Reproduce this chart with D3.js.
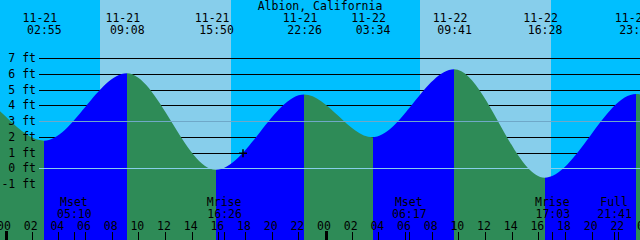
<!DOCTYPE html>
<html>
<head>
<meta charset="utf-8">
<script src="https://cdn.jsdelivr.net/npm/d3@7"></script>
<style>
  body { margin: 0; background: #fff; }
  svg { display: block; }
  text { font-family: "DejaVu Sans Mono", monospace; font-size: 11.5px; fill: #000; }
</style>
</head>
<body>
<div id="chart"></div>
<script>
// Tide extremes (first two and last two lie just outside the window)
const tideTimes = ["2018-11-20 14:50", "2018-11-20 21:12", "2018-11-21 02:55", "2018-11-21 09:08",
    "2018-11-21 15:50", "2018-11-21 22:26", "2018-11-22 03:34", "2018-11-22 09:41",
    "2018-11-22 16:28", "2018-11-22 23:20", "2018-11-23 04:10", "2018-11-23 10:15"];
const tideHeights = [0.3, 4.8, 1.76, 6.05, -0.1, 4.69, 1.97, 6.3, -0.6, 4.73, 2.2, 6.4];

const sunriseTimes = ["2018-11-21 07:07", "2018-11-22 07:08"];
const sunsetTimes = ["2018-11-21 16:57", "2018-11-22 16:57"];

const moonTimes = ["2018-11-21 05:10", "2018-11-21 16:26", "2018-11-22 06:17", "2018-11-22 17:03", "2018-11-22 21:41"];
const moonNames = ["Mset", "Mrise", "Mset", "Mrise", "Full"];

const ftTicks = [-1, 0, 1, 2, 3, 4, 5, 6, 7];
const lightLines = [0, 3];
const nowTime = "2018-11-21 17:51";
const nowHeight = 0.95;

const title = "Albion, California";

const width = 640, height = 240;
const parse = d3.timeParse("%Y-%m-%d %H:%M");
const fmtDate = d3.timeFormat("%m-%d");
const fmtTime = d3.timeFormat("%H:%M");
const fmtHour = d3.timeFormat("%H");

const x = d3.scaleTime()
    .domain([new Date(2018, 10, 20, 23, 37, 30), new Date(2018, 10, 22, 23, 37, 30)])
    .range([0, width]);
const y = d3.scaleLinear().domain([0, 7]).range([168.3, 58.3]);

const tide = tideTimes.map((t, i) => ({ t: parse(t), h: tideHeights[i] }));

const svg = d3.select("#chart").append("svg")
    .attr("width", width)
    .attr("height", height);

// sky: night then daylight bands
svg.append("rect")
    .attr("width", width).attr("height", height)
    .attr("fill", "#00bfff");
svg.selectAll(".day")
    .data(sunriseTimes)
    .enter()
    .append("rect")
    .attr("class", "day")
    .attr("x", d => x(parse(d)))
    .attr("width", (d, i) => x(parse(sunsetTimes[i])) - x(parse(d)))
    .attr("y", 0)
    .attr("height", height)
    .attr("fill", "#87ceeb")
    .attr("shape-rendering", "crispEdges");

// black depth lines (hidden later by the water)
svg.selectAll(".ftline")
    .data(ftTicks.filter(d => lightLines.indexOf(d) < 0))
    .enter()
    .append("line")
    .attr("x1", 39).attr("x2", width)
    .attr("y1", d => Math.round(y(d)) + 0.5)
    .attr("y2", d => Math.round(y(d)) + 0.5)
    .attr("stroke", "#000")
    .attr("stroke-width", 1);

// water, coloured by rising / falling
const area = d3.area()
    .x(d => x(d.t))
    .y0(height)
    .y1(d => y(d.h))
    .curve(d3.curveMonotoneX);
svg.append("clipPath")
    .attr("id", "water")
    .append("path")
    .attr("d", area(tide));
const segs = d3.pairs(tide);
svg.append("g")
    .attr("clip-path", "url(#water)")
    .selectAll("rect")
    .data(segs)
    .enter()
    .append("rect")
    .attr("x", d => x(d[0].t))
    .attr("width", d => x(d[1].t) - x(d[0].t))
    .attr("y", 0)
    .attr("height", height)
    .attr("fill", d => d[1].h > d[0].h ? "#0000ff" : "#2e8b57")
    .attr("shape-rendering", "crispEdges");

// datum and mid lines over the water
svg.selectAll(".light")
    .data(lightLines)
    .enter()
    .append("line")
    .attr("x1", 39).attr("x2", width)
    .attr("y1", d => Math.round(y(d)) + 0.5)
    .attr("y2", d => Math.round(y(d)) + 0.5)
    .attr("stroke", (d, i) => i === 0 ? "#87ceeb" : "#6fa8c8")
    .attr("stroke-width", 1);

// ft labels
svg.selectAll(".ftlab")
    .data(ftTicks)
    .enter()
    .append("text")
    .attr("x", 36)
    .attr("y", d => y(d) + 4)
    .attr("text-anchor", "end")
    .text(d => d + " ft");

// title
svg.append("text")
    .attr("x", width / 2)
    .attr("y", 10)
    .attr("text-anchor", "middle")
    .text(title);

// high / low labels
const shown = tide.filter(d => d.t >= x.domain()[0] && d.t <= x.domain()[1]);
svg.selectAll(".tdate")
    .data(shown)
    .enter()
    .append("text")
    .attr("x", d => x(d.t) - 4)
    .attr("y", 22)
    .attr("text-anchor", "middle")
    .text(d => fmtDate(d.t));
svg.selectAll(".ttime")
    .data(shown)
    .enter()
    .append("text")
    .attr("x", d => x(d.t) + 0.5)
    .attr("y", 34)
    .attr("text-anchor", "middle")
    .text(d => fmtTime(d.t));

// moon events
svg.selectAll(".mname")
    .data(moonTimes)
    .enter()
    .append("text")
    .attr("x", d => x(parse(d)))
    .attr("y", 206)
    .attr("text-anchor", "middle")
    .text((d, i) => moonNames[i]);
svg.selectAll(".mtime")
    .data(moonTimes)
    .enter()
    .append("text")
    .attr("x", d => x(parse(d)) + 0.5)
    .attr("y", 218)
    .attr("text-anchor", "middle")
    .text(d => fmtTime(parse(d)));
svg.selectAll(".mtick")
    .data(moonTimes)
    .enter()
    .append("rect")
    .attr("x", d => Math.round(x(parse(d))))
    .attr("y", 232)
    .attr("width", 1)
    .attr("height", 8)
    .attr("fill", "#000");

// hour axis
const hours = x.ticks(d3.timeHour.every(2)).concat([new Date(2018, 10, 23, 0, 0)]);
svg.selectAll(".hlab")
    .data(hours)
    .enter()
    .append("text")
    .attr("x", d => x(d) - 1)
    .attr("y", 230)
    .attr("text-anchor", "middle")
    .text(d => fmtHour(d));
svg.selectAll(".htick")
    .data(hours)
    .enter()
    .append("rect")
    .attr("x", d => Math.round(x(d)))
    .attr("y", d => d.getHours() === 0 ? 231 : 232)
    .attr("width", d => d.getHours() === 0 ? 3 : 1)
    .attr("height", 9)
    .attr("fill", "#000");

// current time marker
const nx = x(parse(nowTime)), ny = y(nowHeight);
svg.append("path")
    .attr("d", "M" + (nx - 4) + "," + ny + "H" + (nx + 4) + "M" + nx + "," + (ny - 4) + "V" + (ny + 4))
    .attr("stroke", "#000")
    .attr("stroke-width", 1.5);
</script>
</body>
</html>
